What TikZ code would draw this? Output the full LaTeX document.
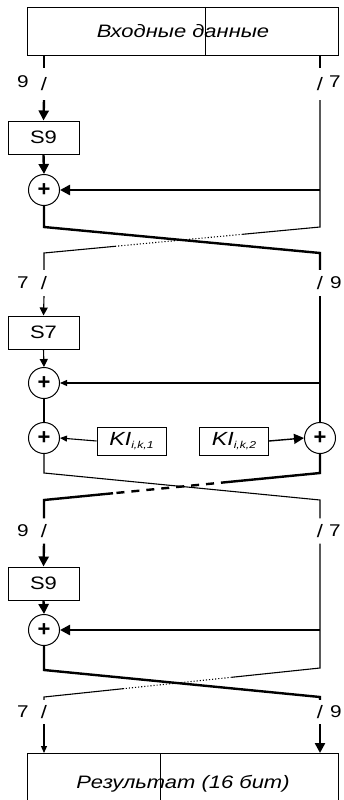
\documentclass[tikz,border=0pt]{standalone}
\usepackage{fontspec}
\setmainfont{Liberation Sans}
\newfontfamily\widefont[FakeStretch=1.22]{Liberation Sans}
\usetikzlibrary{arrows.meta,calc}
\begin{document}
\begin{tikzpicture}[x=1pt,y=-1pt,
 thk/.style={line width=2.4pt},
 thn/.style={line width=1.1pt},
 mid/.style={line width=1.4pt},
 bigtip/.style={-{Triangle[length=10pt,width=10pt]}},
 midtip/.style={-{Triangle[length=8pt,width=8pt]}},
 smalltip/.style={-{Triangle[length=7pt,width=6pt]}},
 frame/.style={draw,line width=1pt,inner sep=0pt,anchor=north west,font=\widefont\fontsize{18}{18}\selectfont\itshape},
 sbox/.style={draw,line width=1pt,minimum width=71pt,minimum height=33pt,inner sep=0pt,font=\widefont\fontsize{18}{18}\selectfont},
 kbox/.style={draw,line width=1pt,minimum width=69pt,minimum height=28pt,inner sep=0pt,font=\widefont\fontsize{19}{19}\selectfont\itshape},
 xor/.style={draw,circle,line width=1pt,minimum size=31pt,inner sep=0pt,font=\fontsize{22}{22}\selectfont\bfseries},
 sl/.style={inner sep=0pt,minimum height=#1,font=\widefont\fontsize{18}{18}\selectfont},
 num/.style={inner sep=0pt,font=\widefont\fontsize{17}{17}\selectfont},
]
\useasboundingbox (0,0) rectangle (344,800);
\clip (0,0) rectangle (344,800);
\fill[white] (0,0) rectangle (344,800);

% input box
\node[frame,minimum width=311pt,minimum height=48pt] (in) at (27,7) {Входные данные};
\draw[line width=1pt] ($(in.north west)+(178,0)$) coordinate (d1a) -- ($(in.south west)+(178,0)$) coordinate (d1b);

% labels row 1
\node[sl=32pt] (sl1L) at (44,84) {/};
\node[sl=32pt] (sl1R) at (320,84) {/};
\node[num] (n1L) at (23,82) {9};
\node[num] (n1R) at (335,82) {7};

% S9
\node[sbox] (s1) at (43.5,137.5) {S9};
\node[xor] (c1) at (44,190) {+};
\coordinate (r1) at (320,190);

\draw[thk] (in.south -| sl1L) -- (sl1L.north);
\draw[thk,bigtip] (sl1L.south) -- (s1.north);
\draw[thk,bigtip] (s1.south) -- (c1.north);
\draw[thn] (in.south -| sl1R) -- (sl1R.north);
\draw[thk,bigtip] (r1) -- (c1.east);

% crossing 1
\coordinate (x1a) at (44,227);
\coordinate (x1b) at (320,227);
\coordinate (x1c) at (44,253);
\coordinate (x1d) at (320,253);
\node[sl=26pt] (sl2L) at (44,283) {/};
\node[sl=26pt] (sl2R) at (320,283) {/};
\node[num] (n2L) at (23,283) {7};
\node[num] (n2R) at (336,283) {9};

\draw[thn] (sl1R.south) -- (x1b) -- ($(x1b)!0.28!(x1c)$) coordinate (p1a);
\draw[thn,dotted] (p1a) -- ($(x1b)!0.74!(x1c)$) coordinate (p1b);
\draw[thn] (p1b) -- (x1c) -- (sl2L.north);
\draw[thk] (c1.south) -- (x1a) -- (x1d) -- (sl2R.north);

% S7
\node[sbox] (s2) at (43.5,332.5) {S7};
\node[xor] (c2) at (44,383) {+};
\node[xor] (c3L) at (44,438) {+};
\node[xor] (c3R) at (320,438) {+};
\node[kbox] (k1) at (131.5,441) {KI{\fontsize{10}{10}\selectfont\raisebox{-2.5pt}{i,k,1}}};
\node[kbox] (k2) at (234,441) {KI{\fontsize{10}{10}\selectfont\raisebox{-2.5pt}{i,k,2}}};
\coordinate (r2) at (320,383);

\draw[thn,midtip] (sl2L.south) -- (s2.north);
\draw[thn,midtip] (s2.south) -- (c2.north);
\draw[thk] (sl2R.south) -- (c3R.north);
\draw[thn,smalltip] (r2) -- (c2.east);
\draw[thn] (c2.south) -- (c3L.north);
\draw[thn,smalltip] (k1.west) -- (c3L.east);
\draw[mid,bigtip] (k2.east) -- (c3R.west);

% crossing 2
\coordinate (x2a) at (44,473);
\coordinate (x2b) at (320,473);
\coordinate (x2c) at (44,500);
\coordinate (x2d) at (320,500);
\node[sl=25pt] (sl3L) at (44,531) {/};
\node[sl=25pt] (sl3R) at (320,531) {/};
\node[num] (n3L) at (23,531) {9};
\node[num] (n3R) at (335,531) {7};

\draw[thn] (c3L.south) -- (x2a) -- (x2d) -- (sl3R.north);
\draw[thk] (c3R.south) -- (x2b) -- ($(x2b)!0.33!(x2c)$) coordinate (p2a);
\draw[thk,dash pattern=on 8pt off 7pt] (p2a) -- ($(x2b)!0.75!(x2c)$) coordinate (p2b);
\draw[thk] (p2b) -- (x2c) -- (sl3L.north);

% S9 second
\node[sbox] (s3) at (43.5,583.5) {S9};
\node[xor] (c4) at (44,630) {+};
\coordinate (r3) at (320,630);
\draw[thk,bigtip] (sl3L.south) -- (s3.north);
\draw[thk,bigtip] (s3.south) -- (c4.north);
\draw[thk,bigtip] (r3) -- (c4.east);

% crossing 3
\coordinate (x3a) at (44,670);
\coordinate (x3b) at (320,668);
\coordinate (x3c) at (44,697);
\coordinate (x3d) at (320,697);
\node[sl=24pt] (sl4L) at (44,712) {/};
\node[sl=24pt] (sl4R) at (320,712) {/};
\node[num] (n4L) at (23,712) {7};
\node[num] (n4R) at (336,712) {9};

\draw[thn] (sl3R.south) -- (x3b) -- ($(x3b)!0.32!(x3c)$) coordinate (p3a);
\draw[thn,dotted] (p3a) -- ($(x3b)!0.71!(x3c)$) coordinate (p3b);
\draw[thn] (p3b) -- (x3c) -- (sl4L.north);
\draw[thk] (c4.south) -- (x3a) -- (x3d) -- (sl4R.north);

% output box
\node[frame,minimum width=311pt,minimum height=60pt] (out) at (27,753) {Результат (16 бит)};
\draw[line width=1pt] ($(out.north west)+(133,0)$) coordinate (d2a) -- ($(out.south west)+(133,0)$) coordinate (d2b);
\draw[thn,smalltip] (sl4L.south) -- (out.north -| sl4L);
\draw[thk,bigtip] (sl4R.south) -- (out.north -| sl4R);
\end{tikzpicture}
\end{document}
